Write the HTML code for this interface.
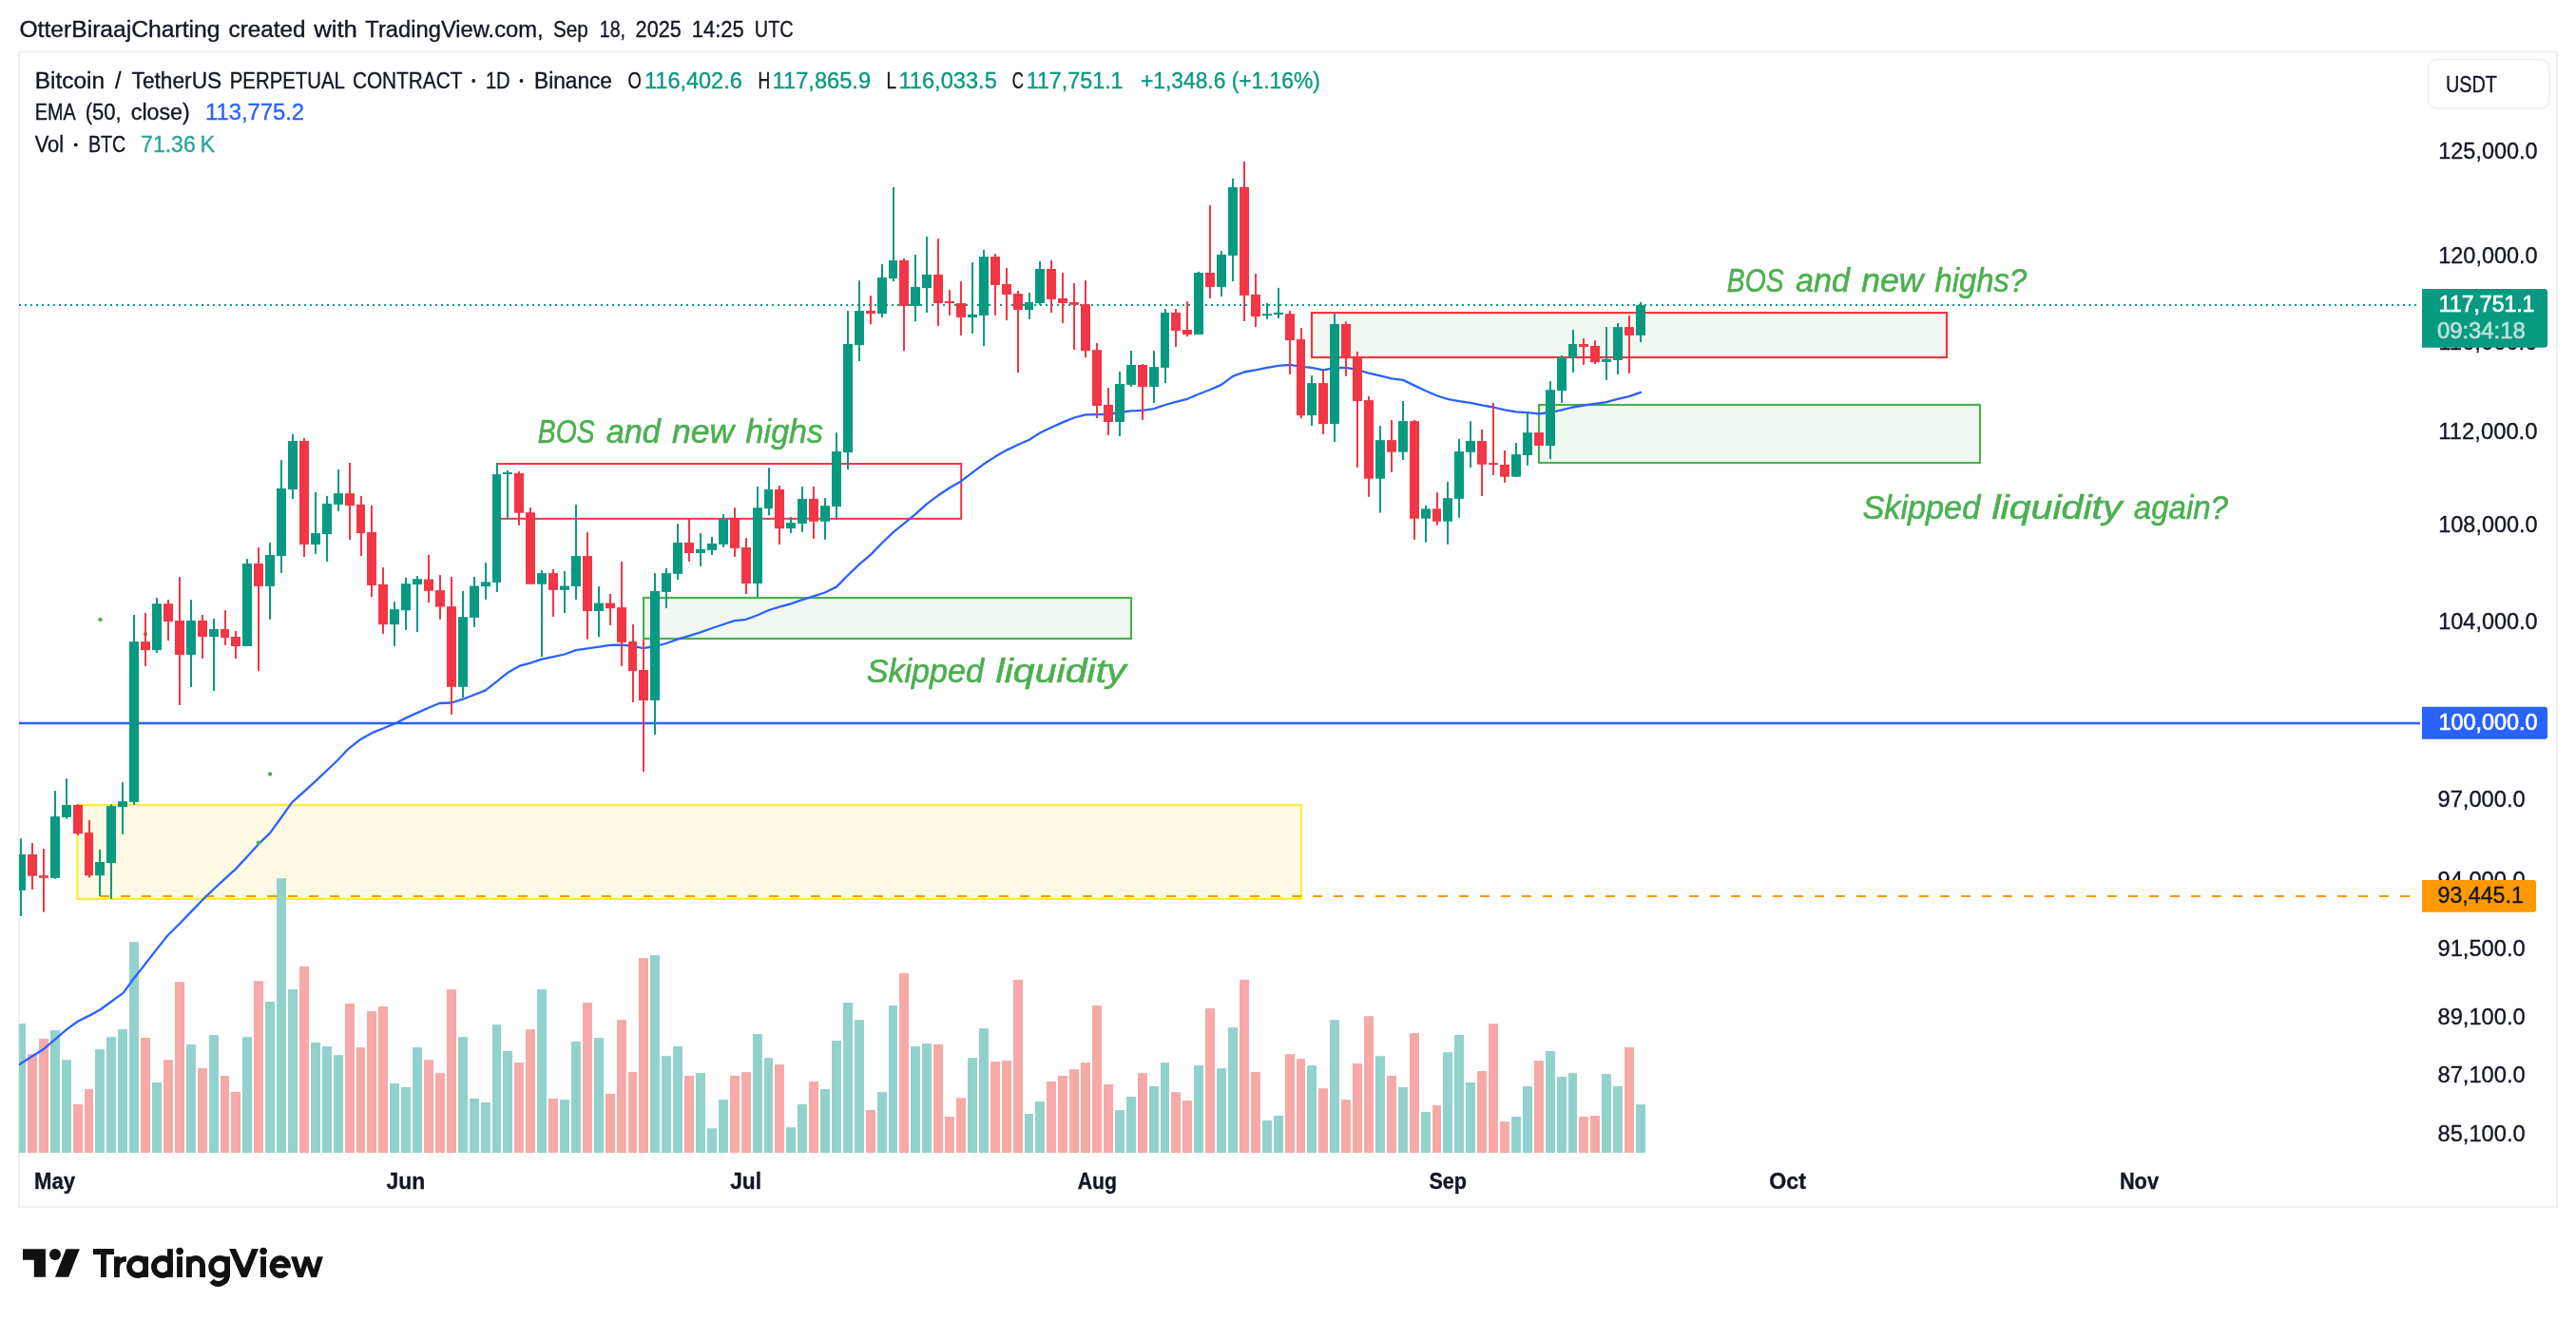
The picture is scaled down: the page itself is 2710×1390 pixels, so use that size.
<!DOCTYPE html>
<html><head><meta charset="utf-8"><title>BTCUSDT.P chart</title>
<style>html,body{margin:0;padding:0;background:#fff;}svg{display:block;opacity:0.999;will-change:transform;}text{font-family:"Liberation Sans",sans-serif;white-space:pre;}</style>
</head><body>
<svg width="2710" height="1390" viewBox="0 0 2710 1390">
<rect x="0" y="0" width="2710" height="1390" fill="#ffffff"/>
<rect x="20" y="54.5" width="2670" height="1215.5" fill="#ffffff" stroke="#f0f0f1" stroke-width="2"/>
<defs><clipPath id="plot"><rect x="20" y="55" width="2526" height="1158"/></clipPath></defs>
<g clip-path="url(#plot)">
<rect x="81.4" y="847.1" width="1287.6" height="98.8" fill="#fffae3" stroke="#ffeb3b" stroke-width="2.2"/>
<rect x="523" y="488" width="488.2" height="57.8" fill="none" stroke="#f23645" stroke-width="2"/>
<rect x="677" y="629" width="513" height="43" fill="#f1f8f2" stroke="#4caf50" stroke-width="2.2"/>
<rect x="1380" y="329.1" width="668" height="46.9" fill="#f1f8f2" stroke="#f23645" stroke-width="2.2"/>
<rect x="1619" y="426" width="464" height="61" fill="#f1f8f2" stroke="#4caf50" stroke-width="2.2"/>
<rect x="17" y="1077.1" width="10" height="135.9" fill="#92d2cc"/>
<rect x="29" y="1109.2" width="10" height="103.8" fill="#f7a9a7"/>
<rect x="41" y="1093" width="10" height="120" fill="#f7a9a7"/>
<rect x="53" y="1084.1" width="10" height="128.9" fill="#92d2cc"/>
<rect x="65" y="1115.2" width="10" height="97.8" fill="#92d2cc"/>
<rect x="77" y="1162.1" width="10" height="50.9" fill="#f7a9a7"/>
<rect x="89" y="1146" width="9" height="67" fill="#f7a9a7"/>
<rect x="100" y="1104.2" width="10" height="108.8" fill="#92d2cc"/>
<rect x="112" y="1091.1" width="10" height="121.9" fill="#92d2cc"/>
<rect x="124" y="1083.1" width="10" height="129.9" fill="#92d2cc"/>
<rect x="136" y="991.2" width="10" height="221.8" fill="#92d2cc"/>
<rect x="148" y="1092" width="10" height="121" fill="#f7a9a7"/>
<rect x="160" y="1139" width="10" height="74" fill="#92d2cc"/>
<rect x="172" y="1115.2" width="10" height="97.8" fill="#f7a9a7"/>
<rect x="184" y="1033.2" width="10" height="179.8" fill="#f7a9a7"/>
<rect x="196" y="1099" width="10" height="114" fill="#92d2cc"/>
<rect x="208" y="1124.1" width="10" height="88.9" fill="#f7a9a7"/>
<rect x="220" y="1089.1" width="10" height="123.9" fill="#92d2cc"/>
<rect x="232" y="1132" width="9" height="81" fill="#f7a9a7"/>
<rect x="243" y="1148.9" width="10" height="64.1" fill="#f7a9a7"/>
<rect x="255" y="1091.1" width="10" height="121.9" fill="#92d2cc"/>
<rect x="267" y="1032.2" width="10" height="180.8" fill="#f7a9a7"/>
<rect x="279" y="1054" width="10" height="159" fill="#92d2cc"/>
<rect x="291" y="924.1" width="10" height="288.9" fill="#92d2cc"/>
<rect x="303" y="1041.1" width="10" height="171.9" fill="#92d2cc"/>
<rect x="315" y="1017" width="10" height="196" fill="#f7a9a7"/>
<rect x="327" y="1097" width="10" height="116" fill="#92d2cc"/>
<rect x="339" y="1101" width="10" height="112" fill="#92d2cc"/>
<rect x="351" y="1110.2" width="10" height="102.8" fill="#92d2cc"/>
<rect x="363" y="1056" width="10" height="157" fill="#f7a9a7"/>
<rect x="375" y="1102" width="9" height="111" fill="#f7a9a7"/>
<rect x="386" y="1064" width="10" height="149" fill="#f7a9a7"/>
<rect x="398" y="1059" width="10" height="154" fill="#f7a9a7"/>
<rect x="410" y="1140" width="10" height="73" fill="#92d2cc"/>
<rect x="422" y="1144" width="10" height="69" fill="#92d2cc"/>
<rect x="434" y="1102" width="10" height="111" fill="#92d2cc"/>
<rect x="446" y="1115.2" width="10" height="97.8" fill="#f7a9a7"/>
<rect x="458" y="1129.1" width="10" height="83.9" fill="#f7a9a7"/>
<rect x="470" y="1041.1" width="10" height="171.9" fill="#f7a9a7"/>
<rect x="482" y="1091.1" width="10" height="121.9" fill="#92d2cc"/>
<rect x="494" y="1155.9" width="10" height="57.1" fill="#92d2cc"/>
<rect x="506" y="1160.1" width="10" height="52.9" fill="#92d2cc"/>
<rect x="518" y="1078.1" width="9" height="134.9" fill="#92d2cc"/>
<rect x="529" y="1106" width="10" height="107" fill="#92d2cc"/>
<rect x="541" y="1118.1" width="10" height="94.9" fill="#f7a9a7"/>
<rect x="553" y="1083.1" width="10" height="129.9" fill="#f7a9a7"/>
<rect x="565" y="1041.1" width="10" height="171.9" fill="#92d2cc"/>
<rect x="577" y="1155.9" width="10" height="57.1" fill="#f7a9a7"/>
<rect x="589" y="1157.1" width="10" height="55.9" fill="#92d2cc"/>
<rect x="601" y="1096" width="10" height="117" fill="#92d2cc"/>
<rect x="613" y="1055" width="10" height="158" fill="#f7a9a7"/>
<rect x="625" y="1092" width="10" height="121" fill="#92d2cc"/>
<rect x="637" y="1150.9" width="10" height="62.1" fill="#f7a9a7"/>
<rect x="649" y="1073.2" width="10" height="139.8" fill="#f7a9a7"/>
<rect x="661" y="1128.1" width="9" height="84.9" fill="#f7a9a7"/>
<rect x="672" y="1008.1" width="10" height="204.9" fill="#f7a9a7"/>
<rect x="684" y="1005.1" width="10" height="207.9" fill="#92d2cc"/>
<rect x="696" y="1111.2" width="10" height="101.8" fill="#92d2cc"/>
<rect x="708" y="1101" width="10" height="112" fill="#92d2cc"/>
<rect x="720" y="1132" width="10" height="81" fill="#f7a9a7"/>
<rect x="732" y="1129.1" width="10" height="83.9" fill="#92d2cc"/>
<rect x="744" y="1187.2" width="10" height="25.8" fill="#92d2cc"/>
<rect x="756" y="1157.1" width="10" height="55.9" fill="#92d2cc"/>
<rect x="768" y="1132" width="10" height="81" fill="#f7a9a7"/>
<rect x="780" y="1128.1" width="10" height="84.9" fill="#f7a9a7"/>
<rect x="792" y="1088.1" width="10" height="124.9" fill="#92d2cc"/>
<rect x="804" y="1113.2" width="9" height="99.8" fill="#92d2cc"/>
<rect x="815" y="1120.1" width="10" height="92.9" fill="#f7a9a7"/>
<rect x="827" y="1186.2" width="10" height="26.8" fill="#92d2cc"/>
<rect x="839" y="1162.1" width="10" height="50.9" fill="#92d2cc"/>
<rect x="851" y="1138" width="10" height="75" fill="#f7a9a7"/>
<rect x="863" y="1146" width="10" height="67" fill="#92d2cc"/>
<rect x="875" y="1095" width="10" height="118" fill="#92d2cc"/>
<rect x="887" y="1055" width="10" height="158" fill="#92d2cc"/>
<rect x="899" y="1073.2" width="10" height="139.8" fill="#92d2cc"/>
<rect x="911" y="1168.1" width="10" height="44.9" fill="#f7a9a7"/>
<rect x="923" y="1149.2" width="10" height="63.8" fill="#92d2cc"/>
<rect x="935" y="1058" width="9" height="155" fill="#92d2cc"/>
<rect x="946" y="1024" width="10" height="189" fill="#f7a9a7"/>
<rect x="958" y="1101" width="10" height="112" fill="#92d2cc"/>
<rect x="970" y="1098" width="10" height="115" fill="#92d2cc"/>
<rect x="982" y="1099" width="10" height="114" fill="#f7a9a7"/>
<rect x="994" y="1175" width="10" height="38" fill="#f7a9a7"/>
<rect x="1006" y="1155.2" width="10" height="57.8" fill="#f7a9a7"/>
<rect x="1018" y="1113.2" width="10" height="99.8" fill="#92d2cc"/>
<rect x="1030" y="1082.1" width="10" height="130.9" fill="#92d2cc"/>
<rect x="1042" y="1117.1" width="10" height="95.9" fill="#f7a9a7"/>
<rect x="1054" y="1116.1" width="10" height="96.9" fill="#f7a9a7"/>
<rect x="1066" y="1030.9" width="10" height="182.1" fill="#f7a9a7"/>
<rect x="1078" y="1172" width="9" height="41" fill="#92d2cc"/>
<rect x="1089" y="1159.1" width="10" height="53.9" fill="#92d2cc"/>
<rect x="1101" y="1138" width="10" height="75" fill="#f7a9a7"/>
<rect x="1113" y="1132" width="10" height="81" fill="#f7a9a7"/>
<rect x="1125" y="1125.1" width="10" height="87.9" fill="#f7a9a7"/>
<rect x="1137" y="1118.1" width="10" height="94.9" fill="#f7a9a7"/>
<rect x="1149" y="1058" width="10" height="155" fill="#f7a9a7"/>
<rect x="1161" y="1141" width="10" height="72" fill="#f7a9a7"/>
<rect x="1173" y="1168.1" width="10" height="44.9" fill="#92d2cc"/>
<rect x="1185" y="1153.9" width="10" height="59.1" fill="#92d2cc"/>
<rect x="1197" y="1129.1" width="10" height="83.9" fill="#f7a9a7"/>
<rect x="1209" y="1143" width="10" height="70" fill="#92d2cc"/>
<rect x="1221" y="1118.1" width="9" height="94.9" fill="#92d2cc"/>
<rect x="1232" y="1149.2" width="10" height="63.8" fill="#f7a9a7"/>
<rect x="1244" y="1158.1" width="10" height="54.9" fill="#f7a9a7"/>
<rect x="1256" y="1121.1" width="10" height="91.9" fill="#92d2cc"/>
<rect x="1268" y="1061" width="10" height="152" fill="#f7a9a7"/>
<rect x="1280" y="1124.1" width="10" height="88.9" fill="#92d2cc"/>
<rect x="1292" y="1081.1" width="10" height="131.9" fill="#92d2cc"/>
<rect x="1304" y="1030.9" width="10" height="182.1" fill="#f7a9a7"/>
<rect x="1316" y="1128.1" width="10" height="84.9" fill="#f7a9a7"/>
<rect x="1328" y="1179" width="10" height="34" fill="#92d2cc"/>
<rect x="1340" y="1174" width="10" height="39" fill="#92d2cc"/>
<rect x="1352" y="1109.2" width="10" height="103.8" fill="#f7a9a7"/>
<rect x="1364" y="1114.2" width="9" height="98.8" fill="#f7a9a7"/>
<rect x="1375" y="1121.1" width="10" height="91.9" fill="#92d2cc"/>
<rect x="1387" y="1145.2" width="10" height="67.8" fill="#f7a9a7"/>
<rect x="1399" y="1073.2" width="10" height="139.8" fill="#92d2cc"/>
<rect x="1411" y="1157.1" width="10" height="55.9" fill="#f7a9a7"/>
<rect x="1423" y="1119.1" width="10" height="93.9" fill="#f7a9a7"/>
<rect x="1435" y="1069.2" width="10" height="143.8" fill="#f7a9a7"/>
<rect x="1447" y="1111.2" width="10" height="101.8" fill="#92d2cc"/>
<rect x="1459" y="1132" width="10" height="81" fill="#f7a9a7"/>
<rect x="1471" y="1144" width="10" height="69" fill="#92d2cc"/>
<rect x="1483" y="1087.1" width="10" height="125.9" fill="#f7a9a7"/>
<rect x="1495" y="1170.1" width="10" height="42.9" fill="#92d2cc"/>
<rect x="1507" y="1163.1" width="9" height="49.9" fill="#f7a9a7"/>
<rect x="1518" y="1107.2" width="10" height="105.8" fill="#92d2cc"/>
<rect x="1530" y="1089.1" width="10" height="123.9" fill="#92d2cc"/>
<rect x="1542" y="1139" width="10" height="74" fill="#92d2cc"/>
<rect x="1554" y="1127.1" width="10" height="85.9" fill="#f7a9a7"/>
<rect x="1566" y="1077.1" width="10" height="135.9" fill="#f7a9a7"/>
<rect x="1578" y="1180.2" width="10" height="32.8" fill="#f7a9a7"/>
<rect x="1590" y="1175" width="10" height="38" fill="#92d2cc"/>
<rect x="1602" y="1143" width="10" height="70" fill="#92d2cc"/>
<rect x="1614" y="1116.1" width="10" height="96.9" fill="#f7a9a7"/>
<rect x="1626" y="1106" width="10" height="107" fill="#92d2cc"/>
<rect x="1638" y="1133" width="10" height="80" fill="#92d2cc"/>
<rect x="1650" y="1129.1" width="9" height="83.9" fill="#92d2cc"/>
<rect x="1661" y="1175" width="10" height="38" fill="#f7a9a7"/>
<rect x="1673" y="1174" width="10" height="39" fill="#f7a9a7"/>
<rect x="1685" y="1130.1" width="10" height="82.9" fill="#92d2cc"/>
<rect x="1697" y="1143" width="10" height="70" fill="#92d2cc"/>
<rect x="1709" y="1102" width="10" height="111" fill="#f7a9a7"/>
<rect x="1721" y="1162.1" width="10" height="50.9" fill="#92d2cc"/>
<line x1="20" y1="760.95" x2="2546" y2="760.95" stroke="#2962ff" stroke-width="2.6"/>
<line x1="105" y1="943" x2="2546" y2="943" stroke="#ff9800" stroke-width="2.2" stroke-dasharray="10 12"/>
<line x1="20" y1="321" x2="2544" y2="321" stroke="#089981" stroke-width="2" stroke-dasharray="2 4"/>
<polyline points="20.5,1120.1 34.1,1111.2 46.1,1103.7 57.7,1093.8 69.9,1083.4 81.8,1074.7 93.5,1068.9 105.7,1062.2 116.9,1054 129.8,1044.6 141,1029.2 152.9,1014.3 164.8,998.9 176.7,984 188.9,972 200.8,959.6 212.8,947.2 224.9,935.5 236.4,924.8 248,914.4 260,901.5 272,888.2 284,876.7 295.7,860.5 307.3,844.2 319.4,833.3 331.5,822.4 343,811.5 355.1,800 366.6,787.8 379.3,777.9 392.7,770.6 403.6,766.3 415.7,761.2 427.2,755.4 439.9,749.6 450.8,744.8 462.3,740 475,739.5 486.9,735.7 499,731 510.8,726.4 522.9,716.9 534,707.9 545.8,700.9 557.9,697.6 570,693.7 581.9,691.1 594,688.5 605.8,684.2 617.9,682.4 630,680.6 641.9,678.8 654,678.5 665.8,679.8 676.9,682.1 689,680 700.8,677 712.9,672.6 724.8,669.2 736.9,665.4 749,661 760.9,657 772.8,653.1 784.9,651.8 797,647.2 808.9,642 819.9,638.7 831.8,635.4 843.9,631.2 856,627.4 867.8,623.5 879.9,617.6 891.8,605.5 903.9,593.9 916,583.6 927.8,571.5 939.9,559.9 951,550.9 963,541.1 974.9,530.3 987,521.3 999.1,513.3 1011,506.4 1022.8,497.4 1034.9,488.3 1047,480.6 1059,473.6 1070.8,468 1082.9,462.7 1094,455.5 1106.1,449.8 1117.9,444.4 1130,439.5 1141.9,436.4 1154,436.2 1165.8,435.9 1178,434 1189.9,432.4 1202,431.9 1213.8,430.1 1225.9,426 1237,422.9 1249.1,419.8 1260.9,414.7 1273,410 1284.9,404.9 1297,395.9 1308.8,391.5 1320.9,389.4 1333,386.9 1344.9,384.8 1357,383.8 1368.8,385.6 1379.9,386.9 1392,389.4 1404.1,387.1 1415.9,386.9 1427.9,389 1440,392.7 1452,395.4 1464.1,398.3 1476.1,399.9 1487.9,405.6 1499.9,411.3 1512,416.5 1522.9,419.9 1534.9,422.2 1547,423.8 1559,426.3 1571,428.5 1583.1,431.3 1594.9,433.3 1606.9,434.2 1619,435.4 1631,434 1643,431.3 1654.8,428.5 1666,426.5 1678,424.9 1689.8,423.1 1701.9,419.9 1713.9,417.2 1725.9,412.9" fill="none" stroke="#2962ff" stroke-width="2.3" stroke-linejoin="round" stroke-linecap="round"/>
<circle cx="105.4" cy="651.9" r="2.2" fill="#4caf50"/>
<circle cx="153" cy="667.1" r="2.2" fill="#4caf50"/>
<circle cx="284.1" cy="814.4" r="2.2" fill="#4caf50"/>
<circle cx="272" cy="886.7" r="2.2" fill="#4caf50"/>
<rect x="21" y="882.3" width="2" height="81.7" fill="#089981"/>
<rect x="17" y="899" width="10" height="37.9" fill="#089981"/>
<rect x="33" y="887" width="2" height="48.9" fill="#f23645"/>
<rect x="29" y="899" width="10" height="22.7" fill="#f23645"/>
<rect x="45" y="893.1" width="2" height="66.5" fill="#f23645"/>
<rect x="41" y="921.2" width="10" height="2.6" fill="#f23645"/>
<rect x="57" y="832.1" width="2" height="92.7" fill="#089981"/>
<rect x="53" y="859.1" width="10" height="64.7" fill="#089981"/>
<rect x="69" y="819.2" width="2" height="42.5" fill="#089981"/>
<rect x="65" y="847" width="10" height="12.9" fill="#089981"/>
<rect x="81" y="846.3" width="2" height="32.7" fill="#f23645"/>
<rect x="77" y="847" width="10" height="30.2" fill="#f23645"/>
<rect x="93" y="863" width="2" height="60.5" fill="#f23645"/>
<rect x="89" y="876.1" width="9" height="45.1" fill="#f23645"/>
<rect x="104" y="893.9" width="2" height="48.9" fill="#089981"/>
<rect x="100" y="907" width="10" height="14.2" fill="#089981"/>
<rect x="116" y="846.3" width="2" height="99.4" fill="#089981"/>
<rect x="112" y="848.1" width="10" height="60" fill="#089981"/>
<rect x="128" y="823.1" width="2" height="54.8" fill="#089981"/>
<rect x="124" y="843.2" width="10" height="5.9" fill="#089981"/>
<rect x="140" y="647" width="2" height="199.8" fill="#089981"/>
<rect x="136" y="675.1" width="10" height="168.9" fill="#089981"/>
<rect x="152" y="645" width="2" height="55.9" fill="#f23645"/>
<rect x="148" y="675.1" width="10" height="9" fill="#f23645"/>
<rect x="164" y="629" width="2" height="58" fill="#089981"/>
<rect x="160" y="635.2" width="10" height="48.9" fill="#089981"/>
<rect x="176" y="631.1" width="2" height="43" fill="#f23645"/>
<rect x="172" y="635.2" width="10" height="18.8" fill="#f23645"/>
<rect x="188" y="607.1" width="2" height="134.9" fill="#f23645"/>
<rect x="184" y="653" width="10" height="36" fill="#f23645"/>
<rect x="200" y="631.1" width="2" height="91.9" fill="#089981"/>
<rect x="196" y="653" width="10" height="36" fill="#089981"/>
<rect x="212" y="647" width="2" height="45.9" fill="#f23645"/>
<rect x="208" y="653" width="10" height="17" fill="#f23645"/>
<rect x="224" y="650.9" width="2" height="76" fill="#089981"/>
<rect x="220" y="662" width="10" height="8" fill="#089981"/>
<rect x="236" y="642.2" width="2" height="36.8" fill="#f23645"/>
<rect x="232" y="662" width="9" height="9" fill="#f23645"/>
<rect x="247" y="664" width="2" height="28.9" fill="#f23645"/>
<rect x="243" y="670" width="10" height="10" fill="#f23645"/>
<rect x="259" y="588.1" width="2" height="91.9" fill="#089981"/>
<rect x="255" y="593" width="10" height="87" fill="#089981"/>
<rect x="271" y="576" width="2" height="130" fill="#f23645"/>
<rect x="267" y="593" width="10" height="23.9" fill="#f23645"/>
<rect x="283" y="571.1" width="2" height="80.8" fill="#089981"/>
<rect x="279" y="584" width="10" height="32.9" fill="#089981"/>
<rect x="295" y="484.1" width="2" height="118.9" fill="#089981"/>
<rect x="291" y="513.9" width="10" height="71.1" fill="#089981"/>
<rect x="307" y="456.8" width="2" height="68.2" fill="#089981"/>
<rect x="303" y="464" width="10" height="51" fill="#089981"/>
<rect x="319" y="460.9" width="2" height="125.1" fill="#f23645"/>
<rect x="315" y="464" width="10" height="108.9" fill="#f23645"/>
<rect x="331" y="518" width="2" height="64.9" fill="#089981"/>
<rect x="327" y="561" width="10" height="11.9" fill="#089981"/>
<rect x="343" y="521.9" width="2" height="69" fill="#089981"/>
<rect x="339" y="529.9" width="10" height="32.2" fill="#089981"/>
<rect x="355" y="493.9" width="2" height="44" fill="#089981"/>
<rect x="351" y="519.1" width="10" height="11.8" fill="#089981"/>
<rect x="367" y="486.9" width="2" height="81.1" fill="#f23645"/>
<rect x="363" y="519.1" width="10" height="12.9" fill="#f23645"/>
<rect x="379" y="521.9" width="2" height="63.1" fill="#f23645"/>
<rect x="375" y="530.9" width="9" height="30.1" fill="#f23645"/>
<rect x="390" y="532" width="2" height="96" fill="#f23645"/>
<rect x="386" y="560" width="10" height="55.9" fill="#f23645"/>
<rect x="402" y="597.1" width="2" height="69.8" fill="#f23645"/>
<rect x="398" y="614.9" width="10" height="42.2" fill="#f23645"/>
<rect x="414" y="633.1" width="2" height="46.9" fill="#089981"/>
<rect x="410" y="641.1" width="10" height="16" fill="#089981"/>
<rect x="426" y="607.9" width="2" height="55.1" fill="#089981"/>
<rect x="422" y="614.1" width="10" height="28.1" fill="#089981"/>
<rect x="438" y="606.1" width="2" height="59" fill="#089981"/>
<rect x="434" y="609.2" width="10" height="5.9" fill="#089981"/>
<rect x="450" y="584" width="2" height="50" fill="#f23645"/>
<rect x="446" y="609.5" width="10" height="12.3" fill="#f23645"/>
<rect x="462" y="605.1" width="2" height="46.6" fill="#f23645"/>
<rect x="458" y="621.1" width="10" height="17.5" fill="#f23645"/>
<rect x="474" y="606.9" width="2" height="145" fill="#f23645"/>
<rect x="470" y="638.1" width="10" height="84.7" fill="#f23645"/>
<rect x="486" y="621.9" width="2" height="112.2" fill="#089981"/>
<rect x="482" y="649.2" width="10" height="73.6" fill="#089981"/>
<rect x="498" y="606.9" width="2" height="52.8" fill="#089981"/>
<rect x="494" y="616.5" width="10" height="33.4" fill="#089981"/>
<rect x="510" y="592" width="2" height="38.9" fill="#089981"/>
<rect x="506" y="612.3" width="10" height="4.7" fill="#089981"/>
<rect x="522" y="487.7" width="2" height="135.2" fill="#089981"/>
<rect x="518" y="499.1" width="9" height="113.8" fill="#089981"/>
<rect x="533" y="494.9" width="2" height="51" fill="#089981"/>
<rect x="529" y="497" width="10" height="2" fill="#089981"/>
<rect x="545" y="496" width="2" height="56.9" fill="#f23645"/>
<rect x="541" y="498" width="10" height="41.7" fill="#f23645"/>
<rect x="557" y="534.1" width="2" height="80.6" fill="#f23645"/>
<rect x="553" y="539.2" width="10" height="75.5" fill="#f23645"/>
<rect x="569" y="600" width="2" height="90.9" fill="#089981"/>
<rect x="565" y="603.1" width="10" height="11.6" fill="#089981"/>
<rect x="581" y="599" width="2" height="49.9" fill="#f23645"/>
<rect x="577" y="603.1" width="10" height="17.7" fill="#f23645"/>
<rect x="593" y="601" width="2" height="44" fill="#089981"/>
<rect x="589" y="616.5" width="10" height="4.3" fill="#089981"/>
<rect x="605" y="531" width="2" height="99.9" fill="#089981"/>
<rect x="601" y="585" width="10" height="32" fill="#089981"/>
<rect x="617" y="560.1" width="2" height="112.7" fill="#f23645"/>
<rect x="613" y="585" width="10" height="58" fill="#f23645"/>
<rect x="629" y="617" width="2" height="53" fill="#089981"/>
<rect x="625" y="634.5" width="10" height="8.5" fill="#089981"/>
<rect x="641" y="625" width="2" height="32.9" fill="#f23645"/>
<rect x="637" y="634.5" width="10" height="5.6" fill="#f23645"/>
<rect x="653" y="591" width="2" height="109.9" fill="#f23645"/>
<rect x="649" y="639.1" width="10" height="36.8" fill="#f23645"/>
<rect x="665" y="656.9" width="2" height="82.1" fill="#f23645"/>
<rect x="661" y="674.9" width="9" height="31.2" fill="#f23645"/>
<rect x="676" y="673.1" width="2" height="139" fill="#f23645"/>
<rect x="672" y="705" width="10" height="32" fill="#f23645"/>
<rect x="688" y="603.1" width="2" height="169.9" fill="#089981"/>
<rect x="684" y="621.9" width="10" height="115.1" fill="#089981"/>
<rect x="700" y="597.9" width="2" height="42" fill="#089981"/>
<rect x="696" y="603.1" width="10" height="19.8" fill="#089981"/>
<rect x="712" y="551.1" width="2" height="58.9" fill="#089981"/>
<rect x="708" y="570.9" width="10" height="32.9" fill="#089981"/>
<rect x="724" y="545.9" width="2" height="45.1" fill="#f23645"/>
<rect x="720" y="570.9" width="10" height="11.1" fill="#f23645"/>
<rect x="736" y="561.1" width="2" height="34.8" fill="#089981"/>
<rect x="732" y="577.8" width="10" height="4.2" fill="#089981"/>
<rect x="748" y="565" width="2" height="19" fill="#089981"/>
<rect x="744" y="571.9" width="10" height="7" fill="#089981"/>
<rect x="760" y="541.1" width="2" height="34.8" fill="#089981"/>
<rect x="756" y="545.8" width="10" height="27" fill="#089981"/>
<rect x="772" y="534.2" width="2" height="51.7" fill="#f23645"/>
<rect x="768" y="545.8" width="10" height="31.1" fill="#f23645"/>
<rect x="784" y="566.1" width="2" height="58.9" fill="#f23645"/>
<rect x="780" y="575.9" width="10" height="38.1" fill="#f23645"/>
<rect x="796" y="512" width="2" height="116.1" fill="#089981"/>
<rect x="792" y="534.2" width="10" height="79.8" fill="#089981"/>
<rect x="808" y="492.2" width="2" height="50" fill="#089981"/>
<rect x="804" y="514.9" width="9" height="20.3" fill="#089981"/>
<rect x="819" y="511" width="2" height="61.8" fill="#f23645"/>
<rect x="815" y="514.9" width="10" height="41.2" fill="#f23645"/>
<rect x="831" y="544.2" width="2" height="16.7" fill="#089981"/>
<rect x="827" y="550.1" width="10" height="6" fill="#089981"/>
<rect x="843" y="512" width="2" height="47.9" fill="#089981"/>
<rect x="839" y="524.9" width="10" height="26" fill="#089981"/>
<rect x="855" y="512" width="2" height="54.9" fill="#f23645"/>
<rect x="851" y="524.9" width="10" height="23.9" fill="#f23645"/>
<rect x="867" y="524.1" width="2" height="43.8" fill="#089981"/>
<rect x="863" y="532.1" width="10" height="16.7" fill="#089981"/>
<rect x="879" y="455.1" width="2" height="91.9" fill="#089981"/>
<rect x="875" y="475" width="10" height="58.1" fill="#089981"/>
<rect x="891" y="327" width="2" height="167.1" fill="#089981"/>
<rect x="887" y="362" width="10" height="114.1" fill="#089981"/>
<rect x="903" y="295.1" width="2" height="84.9" fill="#089981"/>
<rect x="899" y="327" width="10" height="36.1" fill="#089981"/>
<rect x="915" y="311" width="2" height="30.2" fill="#f23645"/>
<rect x="911" y="327" width="10" height="3.1" fill="#f23645"/>
<rect x="927" y="278.1" width="2" height="55.9" fill="#089981"/>
<rect x="923" y="292" width="10" height="38.1" fill="#089981"/>
<rect x="939" y="197" width="2" height="99.1" fill="#089981"/>
<rect x="935" y="274" width="9" height="19" fill="#089981"/>
<rect x="950" y="271.9" width="2" height="97.3" fill="#f23645"/>
<rect x="946" y="274" width="10" height="47.9" fill="#f23645"/>
<rect x="962" y="268.1" width="2" height="70" fill="#089981"/>
<rect x="958" y="302" width="10" height="19.9" fill="#089981"/>
<rect x="974" y="249" width="2" height="80.1" fill="#089981"/>
<rect x="970" y="288.9" width="10" height="14.2" fill="#089981"/>
<rect x="986" y="251.1" width="2" height="91.9" fill="#f23645"/>
<rect x="982" y="288.9" width="10" height="30.1" fill="#f23645"/>
<rect x="998" y="305.1" width="2" height="26.8" fill="#f23645"/>
<rect x="994" y="317" width="10" height="2" fill="#f23645"/>
<rect x="1010" y="296.1" width="2" height="56.9" fill="#f23645"/>
<rect x="1006" y="319" width="10" height="15" fill="#f23645"/>
<rect x="1022" y="276" width="2" height="75" fill="#089981"/>
<rect x="1018" y="330.9" width="10" height="3.1" fill="#089981"/>
<rect x="1034" y="262.9" width="2" height="101.2" fill="#089981"/>
<rect x="1030" y="270.1" width="10" height="61.8" fill="#089981"/>
<rect x="1046" y="267" width="2" height="64.9" fill="#f23645"/>
<rect x="1042" y="270.1" width="10" height="29.9" fill="#f23645"/>
<rect x="1058" y="282" width="2" height="55.1" fill="#f23645"/>
<rect x="1054" y="298.9" width="10" height="11.1" fill="#f23645"/>
<rect x="1070" y="305.9" width="2" height="86.3" fill="#f23645"/>
<rect x="1066" y="309" width="10" height="17" fill="#f23645"/>
<rect x="1082" y="308" width="2" height="28" fill="#089981"/>
<rect x="1078" y="318" width="9" height="8" fill="#089981"/>
<rect x="1093" y="275" width="2" height="45.8" fill="#089981"/>
<rect x="1089" y="283" width="10" height="36" fill="#089981"/>
<rect x="1105" y="274" width="2" height="55.1" fill="#f23645"/>
<rect x="1101" y="283" width="10" height="31.9" fill="#f23645"/>
<rect x="1117" y="287.1" width="2" height="52.8" fill="#f23645"/>
<rect x="1113" y="313.9" width="10" height="5.1" fill="#f23645"/>
<rect x="1129" y="297.9" width="2" height="70.1" fill="#f23645"/>
<rect x="1125" y="318" width="10" height="2.8" fill="#f23645"/>
<rect x="1141" y="295.1" width="2" height="81.1" fill="#f23645"/>
<rect x="1137" y="320.1" width="10" height="49.1" fill="#f23645"/>
<rect x="1153" y="361" width="2" height="79" fill="#f23645"/>
<rect x="1149" y="368.2" width="10" height="58.7" fill="#f23645"/>
<rect x="1165" y="408" width="2" height="50" fill="#f23645"/>
<rect x="1161" y="426" width="10" height="18" fill="#f23645"/>
<rect x="1177" y="391" width="2" height="68" fill="#089981"/>
<rect x="1173" y="404" width="10" height="40" fill="#089981"/>
<rect x="1189" y="369.1" width="2" height="37.9" fill="#089981"/>
<rect x="1185" y="384" width="10" height="20.9" fill="#089981"/>
<rect x="1201" y="383" width="2" height="59" fill="#f23645"/>
<rect x="1197" y="384" width="10" height="23" fill="#f23645"/>
<rect x="1213" y="369.1" width="2" height="54.9" fill="#089981"/>
<rect x="1209" y="386.1" width="10" height="20.9" fill="#089981"/>
<rect x="1225" y="325.1" width="2" height="78" fill="#089981"/>
<rect x="1221" y="328.9" width="9" height="58" fill="#089981"/>
<rect x="1236" y="325.1" width="2" height="39.9" fill="#f23645"/>
<rect x="1232" y="328.9" width="10" height="19.1" fill="#f23645"/>
<rect x="1248" y="317.1" width="2" height="37.1" fill="#f23645"/>
<rect x="1244" y="347" width="10" height="5.1" fill="#f23645"/>
<rect x="1260" y="285.9" width="2" height="66.2" fill="#089981"/>
<rect x="1256" y="287" width="10" height="65.1" fill="#089981"/>
<rect x="1272" y="215.9" width="2" height="98.1" fill="#f23645"/>
<rect x="1268" y="287" width="10" height="14.9" fill="#f23645"/>
<rect x="1284" y="264.1" width="2" height="47.8" fill="#089981"/>
<rect x="1280" y="267.9" width="10" height="34" fill="#089981"/>
<rect x="1296" y="187.8" width="2" height="108.2" fill="#089981"/>
<rect x="1292" y="196.9" width="10" height="72" fill="#089981"/>
<rect x="1308" y="170.1" width="2" height="167.9" fill="#f23645"/>
<rect x="1304" y="196.9" width="10" height="114" fill="#f23645"/>
<rect x="1320" y="288" width="2" height="56.1" fill="#f23645"/>
<rect x="1316" y="309.9" width="10" height="23.2" fill="#f23645"/>
<rect x="1332" y="318.9" width="2" height="17" fill="#089981"/>
<rect x="1328" y="330.2" width="10" height="2" fill="#089981"/>
<rect x="1344" y="302.9" width="2" height="32.2" fill="#089981"/>
<rect x="1340" y="328.9" width="10" height="2.1" fill="#089981"/>
<rect x="1356" y="327.1" width="2" height="67" fill="#f23645"/>
<rect x="1352" y="330.2" width="10" height="27.8" fill="#f23645"/>
<rect x="1368" y="345.2" width="2" height="94.7" fill="#f23645"/>
<rect x="1364" y="357" width="9" height="80.1" fill="#f23645"/>
<rect x="1379" y="395.1" width="2" height="53" fill="#089981"/>
<rect x="1375" y="403.1" width="10" height="34" fill="#089981"/>
<rect x="1391" y="390" width="2" height="66.9" fill="#f23645"/>
<rect x="1387" y="403.1" width="10" height="43" fill="#f23645"/>
<rect x="1403" y="330.2" width="2" height="134.7" fill="#089981"/>
<rect x="1399" y="341" width="10" height="105.1" fill="#089981"/>
<rect x="1415" y="338.2" width="2" height="57.6" fill="#f23645"/>
<rect x="1411" y="341" width="10" height="35.6" fill="#f23645"/>
<rect x="1427" y="370.1" width="2" height="121.8" fill="#f23645"/>
<rect x="1423" y="376.1" width="10" height="45.9" fill="#f23645"/>
<rect x="1439" y="417.1" width="2" height="105.7" fill="#f23645"/>
<rect x="1435" y="421.1" width="10" height="82.6" fill="#f23645"/>
<rect x="1451" y="448.1" width="2" height="91.5" fill="#089981"/>
<rect x="1447" y="463.1" width="10" height="40.6" fill="#089981"/>
<rect x="1463" y="442" width="2" height="54.9" fill="#f23645"/>
<rect x="1459" y="463.1" width="10" height="12.6" fill="#f23645"/>
<rect x="1475" y="422" width="2" height="62" fill="#089981"/>
<rect x="1471" y="443.1" width="10" height="32.6" fill="#089981"/>
<rect x="1487" y="441.9" width="2" height="125.9" fill="#f23645"/>
<rect x="1483" y="443.1" width="10" height="102.6" fill="#f23645"/>
<rect x="1499" y="531.7" width="2" height="39" fill="#089981"/>
<rect x="1495" y="535.3" width="10" height="10.4" fill="#089981"/>
<rect x="1511" y="518" width="2" height="34.8" fill="#f23645"/>
<rect x="1507" y="535.3" width="9" height="13.4" fill="#f23645"/>
<rect x="1522" y="506.9" width="2" height="65.9" fill="#089981"/>
<rect x="1518" y="524.2" width="10" height="24.5" fill="#089981"/>
<rect x="1534" y="461.9" width="2" height="82.9" fill="#089981"/>
<rect x="1530" y="475.1" width="10" height="49.7" fill="#089981"/>
<rect x="1546" y="443.1" width="2" height="48.8" fill="#089981"/>
<rect x="1542" y="464" width="10" height="11.8" fill="#089981"/>
<rect x="1558" y="451.9" width="2" height="70" fill="#f23645"/>
<rect x="1554" y="464" width="10" height="24.7" fill="#f23645"/>
<rect x="1570" y="424" width="2" height="75.9" fill="#f23645"/>
<rect x="1566" y="487.1" width="10" height="2" fill="#f23645"/>
<rect x="1582" y="474" width="2" height="33.8" fill="#f23645"/>
<rect x="1578" y="489" width="10" height="12.7" fill="#f23645"/>
<rect x="1594" y="466" width="2" height="35.7" fill="#089981"/>
<rect x="1590" y="478.1" width="10" height="23.6" fill="#089981"/>
<rect x="1606" y="435.1" width="2" height="54.8" fill="#089981"/>
<rect x="1602" y="455.1" width="10" height="23.9" fill="#089981"/>
<rect x="1618" y="455.1" width="2" height="13.9" fill="#f23645"/>
<rect x="1614" y="455.1" width="10" height="13.9" fill="#f23645"/>
<rect x="1630" y="401.1" width="2" height="82" fill="#089981"/>
<rect x="1626" y="410.2" width="10" height="58.8" fill="#089981"/>
<rect x="1642" y="374" width="2" height="50" fill="#089981"/>
<rect x="1638" y="376.1" width="10" height="35" fill="#089981"/>
<rect x="1654" y="347" width="2" height="45" fill="#089981"/>
<rect x="1650" y="362" width="9" height="14.1" fill="#089981"/>
<rect x="1665" y="356.1" width="2" height="27.9" fill="#f23645"/>
<rect x="1661" y="362" width="10" height="3" fill="#f23645"/>
<rect x="1677" y="358.1" width="2" height="25" fill="#f23645"/>
<rect x="1673" y="364" width="10" height="17.1" fill="#f23645"/>
<rect x="1689" y="344.1" width="2" height="55.8" fill="#089981"/>
<rect x="1685" y="377.9" width="10" height="3" fill="#089981"/>
<rect x="1701" y="340" width="2" height="54" fill="#089981"/>
<rect x="1697" y="344.1" width="10" height="34.9" fill="#089981"/>
<rect x="1713" y="332" width="2" height="60.9" fill="#f23645"/>
<rect x="1709" y="344.1" width="10" height="8.8" fill="#f23645"/>
<rect x="1725" y="317.9" width="2" height="42.1" fill="#089981"/>
<rect x="1721" y="321.1" width="10" height="31.8" fill="#089981"/>
<text x="565.8" y="465.7" font-size="34.5" fill="#4caf50" stroke="#4caf50" stroke-width="0.6" textLength="59.8" lengthAdjust="spacingAndGlyphs" font-style="italic">BOS</text>
<text x="637.8" y="465.7" font-size="34.5" fill="#4caf50" stroke="#4caf50" stroke-width="0.6" textLength="57.1" lengthAdjust="spacingAndGlyphs" font-style="italic">and</text>
<text x="707.1" y="465.7" font-size="34.5" fill="#4caf50" stroke="#4caf50" stroke-width="0.6" textLength="65.2" lengthAdjust="spacingAndGlyphs" font-style="italic">new</text>
<text x="784.6" y="465.7" font-size="34.5" fill="#4caf50" stroke="#4caf50" stroke-width="0.6" textLength="81.5" lengthAdjust="spacingAndGlyphs" font-style="italic">highs</text>
<text x="911.7" y="718.4" font-size="34.5" fill="#4caf50" stroke="#4caf50" stroke-width="0.6" textLength="123.4" lengthAdjust="spacingAndGlyphs" font-style="italic">Skipped</text>
<text x="1047.6" y="718.4" font-size="34.5" fill="#4caf50" stroke="#4caf50" stroke-width="0.6" textLength="137" lengthAdjust="spacingAndGlyphs" font-style="italic">liquidity</text>
<text x="1816.8" y="306.5" font-size="34.5" fill="#4caf50" stroke="#4caf50" stroke-width="0.6" textLength="59.8" lengthAdjust="spacingAndGlyphs" font-style="italic">BOS</text>
<text x="1888.9" y="306.5" font-size="34.5" fill="#4caf50" stroke="#4caf50" stroke-width="0.6" textLength="57" lengthAdjust="spacingAndGlyphs" font-style="italic">and</text>
<text x="1958.2" y="306.5" font-size="34.5" fill="#4caf50" stroke="#4caf50" stroke-width="0.6" textLength="65.2" lengthAdjust="spacingAndGlyphs" font-style="italic">new</text>
<text x="2035.6" y="306.5" font-size="34.5" fill="#4caf50" stroke="#4caf50" stroke-width="0.6" textLength="96.5" lengthAdjust="spacingAndGlyphs" font-style="italic">highs?</text>
<text x="1959.5" y="546.2" font-size="34.5" fill="#4caf50" stroke="#4caf50" stroke-width="0.6" textLength="123.7" lengthAdjust="spacingAndGlyphs" font-style="italic">Skipped</text>
<text x="2095.4" y="546.2" font-size="34.5" fill="#4caf50" stroke="#4caf50" stroke-width="0.6" textLength="137.2" lengthAdjust="spacingAndGlyphs" font-style="italic">liquidity</text>
<text x="2244.8" y="546.2" font-size="34.5" fill="#4caf50" stroke="#4caf50" stroke-width="0.6" textLength="99.2" lengthAdjust="spacingAndGlyphs" font-style="italic">again?</text>
</g>
<text x="20.4" y="39.2" font-size="23.5" fill="#131722" stroke="#131722" stroke-width="0.35" textLength="211.1" lengthAdjust="spacingAndGlyphs">OtterBiraajCharting</text>
<text x="240.5" y="39.2" font-size="23.5" fill="#131722" stroke="#131722" stroke-width="0.35" textLength="81" lengthAdjust="spacingAndGlyphs">created</text>
<text x="330.2" y="39.2" font-size="23.5" fill="#131722" stroke="#131722" stroke-width="0.35" textLength="45.7" lengthAdjust="spacingAndGlyphs">with</text>
<text x="384.3" y="39.2" font-size="23.5" fill="#131722" stroke="#131722" stroke-width="0.35" textLength="187.3" lengthAdjust="spacingAndGlyphs">TradingView.com,</text>
<text x="581.9" y="39.2" font-size="23.5" fill="#131722" stroke="#131722" stroke-width="0.35" textLength="36.8" lengthAdjust="spacingAndGlyphs">Sep</text>
<text x="630.8" y="39.2" font-size="23.5" fill="#131722" stroke="#131722" stroke-width="0.35" textLength="27.1" lengthAdjust="spacingAndGlyphs">18,</text>
<text x="668.6" y="39.2" font-size="23.5" fill="#131722" stroke="#131722" stroke-width="0.35" textLength="48.2" lengthAdjust="spacingAndGlyphs">2025</text>
<text x="727.8" y="39.2" font-size="23.5" fill="#131722" stroke="#131722" stroke-width="0.35" textLength="55" lengthAdjust="spacingAndGlyphs">14:25</text>
<text x="793.8" y="39.2" font-size="23.5" fill="#131722" stroke="#131722" stroke-width="0.35" textLength="40.8" lengthAdjust="spacingAndGlyphs">UTC</text>
<text x="36.7" y="92.9" font-size="23.5" fill="#131722" stroke="#131722" stroke-width="0.35" textLength="73.4" lengthAdjust="spacingAndGlyphs">Bitcoin</text>
<text x="120.9" y="92.9" font-size="23.5" fill="#131722" stroke="#131722" stroke-width="0.35">/</text>
<text x="138.6" y="92.9" font-size="23.5" fill="#131722" stroke="#131722" stroke-width="0.35" textLength="94.6" lengthAdjust="spacingAndGlyphs">TetherUS</text>
<text x="241.8" y="92.9" font-size="23.5" fill="#131722" stroke="#131722" stroke-width="0.35" textLength="121" lengthAdjust="spacingAndGlyphs">PERPETUAL</text>
<text x="370.9" y="92.9" font-size="23.5" fill="#131722" stroke="#131722" stroke-width="0.35" textLength="115.5" lengthAdjust="spacingAndGlyphs">CONTRACT</text>
<text x="510.9" y="92.9" font-size="23.5" fill="#131722" stroke="#131722" stroke-width="0.35" textLength="25.8" lengthAdjust="spacingAndGlyphs">1D</text>
<text x="562" y="92.9" font-size="23.5" fill="#131722" stroke="#131722" stroke-width="0.35" textLength="82" lengthAdjust="spacingAndGlyphs">Binance</text>
<circle cx="498.2" cy="85" r="1.9" fill="#131722"/><circle cx="548.5" cy="85" r="1.9" fill="#131722"/><circle cx="79.7" cy="152.4" r="1.9" fill="#131722"/>
<text x="660.5" y="92.9" font-size="23.5" fill="#131722" stroke="#131722" stroke-width="0.35" textLength="14.3" lengthAdjust="spacingAndGlyphs">O</text>
<text x="678" y="92.9" font-size="23.5" fill="#089981" stroke="#089981" stroke-width="0.35" textLength="102.8" lengthAdjust="spacingAndGlyphs">116,402.6</text>
<text x="797.4" y="92.9" font-size="23.5" fill="#131722" stroke="#131722" stroke-width="0.35" textLength="12.7" lengthAdjust="spacingAndGlyphs">H</text>
<text x="812.6" y="92.9" font-size="23.5" fill="#089981" stroke="#089981" stroke-width="0.35" textLength="103.5" lengthAdjust="spacingAndGlyphs">117,865.9</text>
<text x="932.6" y="92.9" font-size="23.5" fill="#131722" stroke="#131722" stroke-width="0.35" textLength="10.5" lengthAdjust="spacingAndGlyphs">L</text>
<text x="945.4" y="92.9" font-size="23.5" fill="#089981" stroke="#089981" stroke-width="0.35" textLength="103.4" lengthAdjust="spacingAndGlyphs">116,033.5</text>
<text x="1064.7" y="92.9" font-size="23.5" fill="#131722" stroke="#131722" stroke-width="0.35" textLength="12.1" lengthAdjust="spacingAndGlyphs">C</text>
<text x="1079.7" y="92.9" font-size="23.5" fill="#089981" stroke="#089981" stroke-width="0.35" textLength="101.9" lengthAdjust="spacingAndGlyphs">117,751.1</text>
<text x="1200" y="92.9" font-size="23.5" fill="#089981" stroke="#089981" stroke-width="0.35" textLength="188.8" lengthAdjust="spacingAndGlyphs">+1,348.6 (+1.16%)</text>
<text x="36.7" y="126.4" font-size="23.5" fill="#131722" stroke="#131722" stroke-width="0.35" textLength="42.9" lengthAdjust="spacingAndGlyphs">EMA</text>
<text x="89.7" y="126.4" font-size="23.5" fill="#131722" stroke="#131722" stroke-width="0.35" textLength="38" lengthAdjust="spacingAndGlyphs">(50,</text>
<text x="137.8" y="126.4" font-size="23.5" fill="#131722" stroke="#131722" stroke-width="0.35" textLength="61.9" lengthAdjust="spacingAndGlyphs">close)</text>
<text x="216" y="126.4" font-size="23.5" fill="#2962ff" stroke="#2962ff" stroke-width="0.35" textLength="104.1" lengthAdjust="spacingAndGlyphs">113,775.2</text>
<text x="36.7" y="160.3" font-size="23.5" fill="#131722" stroke="#131722" stroke-width="0.35" textLength="30.4" lengthAdjust="spacingAndGlyphs">Vol</text>
<text x="92.9" y="160.3" font-size="23.5" fill="#131722" stroke="#131722" stroke-width="0.35" textLength="39.4" lengthAdjust="spacingAndGlyphs">BTC</text>
<text x="148.1" y="160.3" font-size="23.5" fill="#26a69a" stroke="#26a69a" stroke-width="0.35" textLength="57.6" lengthAdjust="spacingAndGlyphs">71.36</text>
<text x="210.6" y="160.3" font-size="23.5" fill="#26a69a" stroke="#26a69a" stroke-width="0.35">K</text>
<rect x="2554.5" y="62.5" width="127.5" height="51.5" rx="9" ry="9" fill="#ffffff" stroke="#f0f1f4" stroke-width="2"/>
<text x="2573" y="97" font-size="23.5" fill="#131722" stroke="#131722" stroke-width="0.35" textLength="54" lengthAdjust="spacingAndGlyphs">USDT</text>
<text x="2565.3" y="166.94" font-size="23.5" fill="#131722" stroke="#131722" stroke-width="0.35" textLength="104.2" lengthAdjust="spacingAndGlyphs">125,000.0</text>
<text x="2565.3" y="276.76" font-size="23.5" fill="#131722" stroke="#131722" stroke-width="0.35" textLength="104.2" lengthAdjust="spacingAndGlyphs">120,000.0</text>
<text x="2565.3" y="367.95" font-size="23.5" fill="#131722" stroke="#131722" stroke-width="0.35" textLength="104.2" lengthAdjust="spacingAndGlyphs">116,000.0</text>
<text x="2565.3" y="462.35" font-size="23.5" fill="#131722" stroke="#131722" stroke-width="0.35" textLength="104.2" lengthAdjust="spacingAndGlyphs">112,000.0</text>
<text x="2565.3" y="560.17" font-size="23.5" fill="#131722" stroke="#131722" stroke-width="0.35" textLength="104.2" lengthAdjust="spacingAndGlyphs">108,000.0</text>
<text x="2565.3" y="661.7" font-size="23.5" fill="#131722" stroke="#131722" stroke-width="0.35" textLength="104.2" lengthAdjust="spacingAndGlyphs">104,000.0</text>
<text x="2564.5" y="849.14" font-size="23.5" fill="#131722" stroke="#131722" stroke-width="0.35" textLength="92.2" lengthAdjust="spacingAndGlyphs">97,000.0</text>
<text x="2564.5" y="933.64" font-size="23.5" fill="#131722" stroke="#131722" stroke-width="0.35" textLength="92.2" lengthAdjust="spacingAndGlyphs">94,000.0</text>
<text x="2564.5" y="1006.16" font-size="23.5" fill="#131722" stroke="#131722" stroke-width="0.35" textLength="92.2" lengthAdjust="spacingAndGlyphs">91,500.0</text>
<text x="2564.5" y="1077.66" font-size="23.5" fill="#131722" stroke="#131722" stroke-width="0.35" textLength="92.2" lengthAdjust="spacingAndGlyphs">89,100.0</text>
<text x="2564.5" y="1138.72" font-size="23.5" fill="#131722" stroke="#131722" stroke-width="0.35" textLength="92.2" lengthAdjust="spacingAndGlyphs">87,100.0</text>
<text x="2564.5" y="1201.21" font-size="23.5" fill="#131722" stroke="#131722" stroke-width="0.35" textLength="92.2" lengthAdjust="spacingAndGlyphs">85,100.0</text>
<path d="M2548 304 H2677 a3 3 0 0 1 3 3 V362.7 a3 3 0 0 1 -3 3 H2548 Z" fill="#089981"/>
<text x="2565.8" y="327.9" font-size="23.2" fill="#ffffff" stroke="#ffffff" stroke-width="0.7" textLength="100.6" lengthAdjust="spacingAndGlyphs">117,751.1</text>
<text x="2563.9" y="355.6" font-size="23.2" fill="#ffffff" stroke="#ffffff" stroke-width="0.6" textLength="92.9" lengthAdjust="spacingAndGlyphs" opacity="0.72">09:34:18</text>
<path d="M2548 743.8 H2677 a3 3 0 0 1 3 3 V774.7 a3 3 0 0 1 -3 3 H2548 Z" fill="#2962ff"/>
<text x="2565.5" y="767.6" font-size="23.2" fill="#ffffff" stroke="#ffffff" stroke-width="0.7" textLength="104" lengthAdjust="spacingAndGlyphs">100,000.0</text>
<path d="M2548 926.1 H2665 a3 3 0 0 1 3 3 V956.7 a3 3 0 0 1 -3 3 H2548 Z" fill="#ff9800"/>
<text x="2564.5" y="949.6" font-size="23.5" fill="#131722" stroke="#131722" stroke-width="0.35" textLength="90.4" lengthAdjust="spacingAndGlyphs">93,445.1</text>
<text x="36.1" y="1250.7" font-size="23.5" fill="#131722" stroke="#131722" stroke-width="0.35" textLength="43.1" lengthAdjust="spacingAndGlyphs" font-weight="bold">May</text>
<text x="406.5" y="1250.7" font-size="23.5" fill="#131722" stroke="#131722" stroke-width="0.35" textLength="40.7" lengthAdjust="spacingAndGlyphs" font-weight="bold">Jun</text>
<text x="768.2" y="1250.7" font-size="23.5" fill="#131722" stroke="#131722" stroke-width="0.35" textLength="32.8" lengthAdjust="spacingAndGlyphs" font-weight="bold">Jul</text>
<text x="1133.7" y="1250.7" font-size="23.5" fill="#131722" stroke="#131722" stroke-width="0.35" textLength="41.2" lengthAdjust="spacingAndGlyphs" font-weight="bold">Aug</text>
<text x="1503.4" y="1250.7" font-size="23.5" fill="#131722" stroke="#131722" stroke-width="0.35" textLength="39.6" lengthAdjust="spacingAndGlyphs" font-weight="bold">Sep</text>
<text x="1861.3" y="1250.7" font-size="23.5" fill="#131722" stroke="#131722" stroke-width="0.35" textLength="38.6" lengthAdjust="spacingAndGlyphs" font-weight="bold">Oct</text>
<text x="2229.9" y="1250.7" font-size="23.5" fill="#131722" stroke="#131722" stroke-width="0.35" textLength="41.1" lengthAdjust="spacingAndGlyphs" font-weight="bold">Nov</text>
<g fill="#111114">
<path d="M24 1314.2 H47.9 V1343.8 H35.8 V1325.7 H24 Z"/>
<circle cx="58" cy="1320.1" r="6"/>
<path d="M69.5 1314.2 H83.8 L72.1 1343.8 H58 Z"/>
</g>
<defs><clipPath id="ca"><rect x="120" y="1300" width="36" height="70"/></clipPath><clipPath id="cd"><rect x="150" y="1300" width="31.9" height="70"/></clipPath><clipPath id="cg"><rect x="200" y="1300" width="41.9" height="70"/></clipPath></defs>
<g fill="none" stroke="#111114" stroke-width="5.85">
<path d="M97.9 1317 H120 M108.95 1314.1 V1343.9"/>
<path d="M122.95 1322.2 V1343.9 M122.95 1336 C122.95 1327.5 126.5 1324.9 132.9 1324.9"/>
<circle cx="145" cy="1333" r="9" clip-path="url(#ca)"/><path d="M153.05 1322.2 V1343.9"/>
<circle cx="171" cy="1333" r="9" clip-path="url(#cd)"/><path d="M178.95 1314.1 V1343.9"/>
<path d="M189 1322.2 V1343.9"/>
<path d="M198.95 1322.2 V1343.9 M198.95 1331.05 A7.05 7.05 0 0 1 213.05 1331.05 V1343.9"/>
<circle cx="231.2" cy="1332.9" r="9" clip-path="url(#cg)"/><path d="M239.05 1322.2 V1341.6 A9.3 9.3 0 0 1 222.7 1347.6"/>
<path d="M277.05 1322.2 V1343.9"/>
<path d="M302.98 1333.63 A8.2 9 0 1 0 301.26 1338.54"/>
</g>
<path d="M286.6 1332.2 H305.5" fill="none" stroke="#111114" stroke-width="4.3"/>
<g fill="#111114">
<circle cx="189.1" cy="1316.5" r="3.8"/><circle cx="277.1" cy="1316.5" r="3.8"/>
<path d="M241 1314.1 L247.9 1314.1 L257 1334.3 L265 1314.1 L271.9 1314.1 L259.9 1343.9 L254.1 1343.9 Z"/>
<path d="M306 1322.2 L312.2 1322.2 L316.2 1335.8 L320.2 1322.2 L325.6 1322.2 L330.1 1335.8 L333.9 1322.2 L339.9 1322.2 L333.1 1343.9 L327.3 1343.9 L323 1331.2 L318.9 1343.9 L313.2 1343.9 Z"/>
</g>
</svg>
</body></html>
